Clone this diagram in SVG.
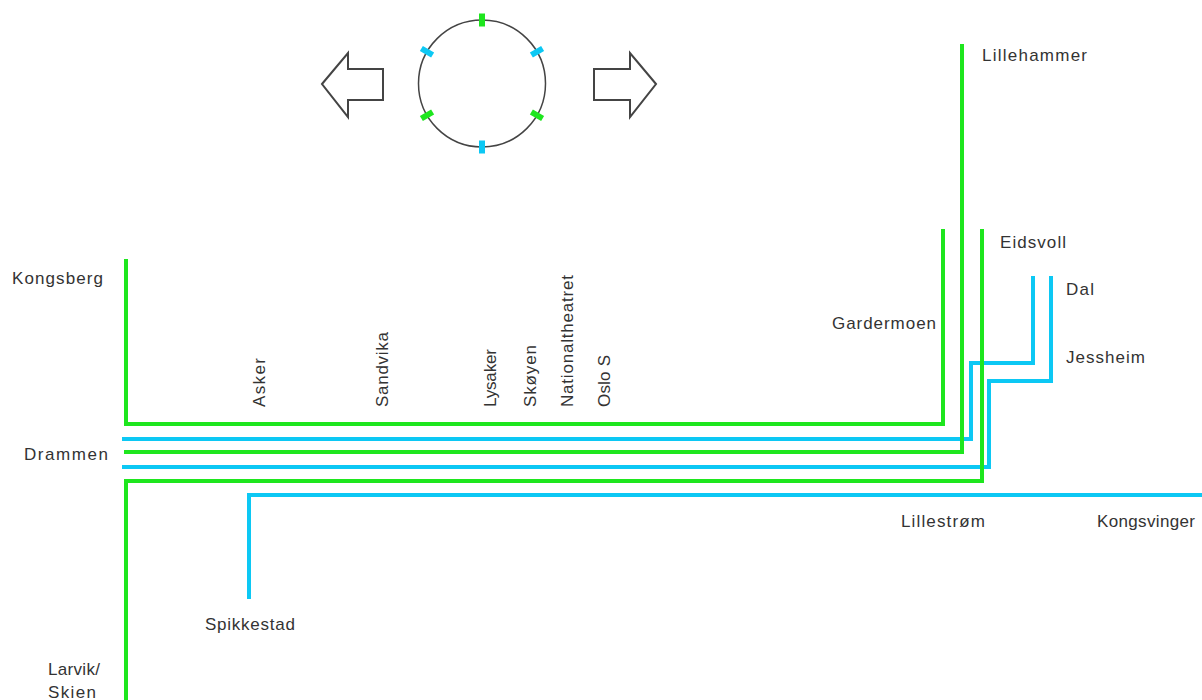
<svg xmlns="http://www.w3.org/2000/svg" width="1202" height="700" viewBox="0 0 1202 700">
<style>
  .g { fill: none; stroke: #1ee61e; stroke-width: 4; }
  .b { fill: none; stroke: #0cc8f4; stroke-width: 4; }
  .lbl { font-family: "Liberation Sans", Arial, sans-serif; font-size: 17px; fill: #333333; }
  .arrow { fill: #ffffff; stroke: #444444; stroke-width: 2; stroke-linejoin: miter; }
  .tg { fill: #1ee61e; }
  .tb { fill: #0cc8f4; }
</style>
<rect x="0" y="0" width="1202" height="700" fill="#ffffff"/>

<g id="compass">
  <polygon class="arrow" points="322,84 348,53 348,69 383,69 383,100 348,100 348,117"/>
  <polygon class="arrow" points="656,84 630,53 630,69 594,69 594,100 630,100 630,117"/>
  <circle cx="482" cy="83.5" r="63.5" fill="none" stroke="#444444" stroke-width="1.5"/>
  <rect class="tg" x="-3" y="-6.5" width="6" height="13" transform="translate(482,20) rotate(0)"/>
  <rect class="tb" x="-3" y="-6.5" width="6" height="13" transform="translate(482,147) rotate(0)"/>
  <rect class="tb" x="-3" y="-6.5" width="6" height="13" transform="translate(537,51.75) rotate(60)"/>
  <rect class="tg" x="-3" y="-6.5" width="6" height="13" transform="translate(537,115.25) rotate(-60)"/>
  <rect class="tb" x="-3" y="-6.5" width="6" height="13" transform="translate(427,51.75) rotate(-60)"/>
  <rect class="tg" x="-3" y="-6.5" width="6" height="13" transform="translate(427,115.25) rotate(60)"/>
</g>

<g id="connectors">
  <polyline id="line-spikkestad-kongsvinger" class="b" points="249,599 249,495 1202,495"/>
  <polyline id="line-drammen-dal" class="b" points="122,439 971,439 971,363 1033,363 1033,276"/>
  <polyline id="line-drammen-jessheim" class="b" points="122,467 989,467 989,381 1051,381 1051,276"/>
  <polyline id="line-kongsberg-gardermoen" class="g" points="126,259 126,424 943,424 943,229"/>
  <polyline id="line-drammen-lillehammer" class="g" points="124,452 962,452 962,44"/>
  <polyline id="line-larvik-eidsvoll" class="g" points="126,700 126,481 982,481 982,229"/>
</g>

<g id="node-kongsberg"><text class="lbl" x="12" y="284" textLength="91" lengthAdjust="spacing">Kongsberg</text></g>
<g id="node-drammen"><text class="lbl" x="24" y="460" textLength="84" lengthAdjust="spacing">Drammen</text></g>
<g id="node-larvik"><text class="lbl" x="48" y="675" textLength="52" lengthAdjust="spacing">Larvik/</text><text class="lbl" x="48" y="698" textLength="48" lengthAdjust="spacing">Skien</text></g>
<g id="node-spikkestad"><text class="lbl" x="205" y="630" textLength="90" lengthAdjust="spacing">Spikkestad</text></g>
<g id="node-asker"><text class="lbl" transform="translate(264.5,407) rotate(-90)" x="0" y="0" textLength="49" lengthAdjust="spacing">Asker</text></g>
<g id="node-sandvika"><text class="lbl" transform="translate(387.5,407) rotate(-90)" x="0" y="0" textLength="75" lengthAdjust="spacing">Sandvika</text></g>
<g id="node-lysaker"><text class="lbl" transform="translate(495.5,407) rotate(-90)" x="0" y="0" textLength="58" lengthAdjust="spacing">Lysaker</text></g>
<g id="node-skoyen"><text class="lbl" transform="translate(535.5,407) rotate(-90)" x="0" y="0" textLength="62" lengthAdjust="spacing">Skøyen</text></g>
<g id="node-nationaltheatret"><text class="lbl" transform="translate(572.5,407) rotate(-90)" x="0" y="0" textLength="132" lengthAdjust="spacing">Nationaltheatret</text></g>
<g id="node-oslo-s"><text class="lbl" transform="translate(609.5,407) rotate(-90)" x="0" y="0" textLength="52" lengthAdjust="spacing">Oslo S</text></g>
<g id="node-lillehammer"><text class="lbl" x="982" y="61" textLength="105" lengthAdjust="spacing">Lillehammer</text></g>
<g id="node-eidsvoll"><text class="lbl" x="1000" y="248" textLength="66" lengthAdjust="spacing">Eidsvoll</text></g>
<g id="node-dal"><text class="lbl" x="1066" y="295" textLength="28" lengthAdjust="spacing">Dal</text></g>
<g id="node-gardermoen"><text class="lbl" x="832" y="329" textLength="104" lengthAdjust="spacing">Gardermoen</text></g>
<g id="node-jessheim"><text class="lbl" x="1066" y="363" textLength="79" lengthAdjust="spacing">Jessheim</text></g>
<g id="node-lillestrom"><text class="lbl" x="901" y="527" textLength="84" lengthAdjust="spacing">Lillestrøm</text></g>
<g id="node-kongsvinger"><text class="lbl" x="1097" y="527" textLength="98" lengthAdjust="spacing">Kongsvinger</text></g>
</svg>
